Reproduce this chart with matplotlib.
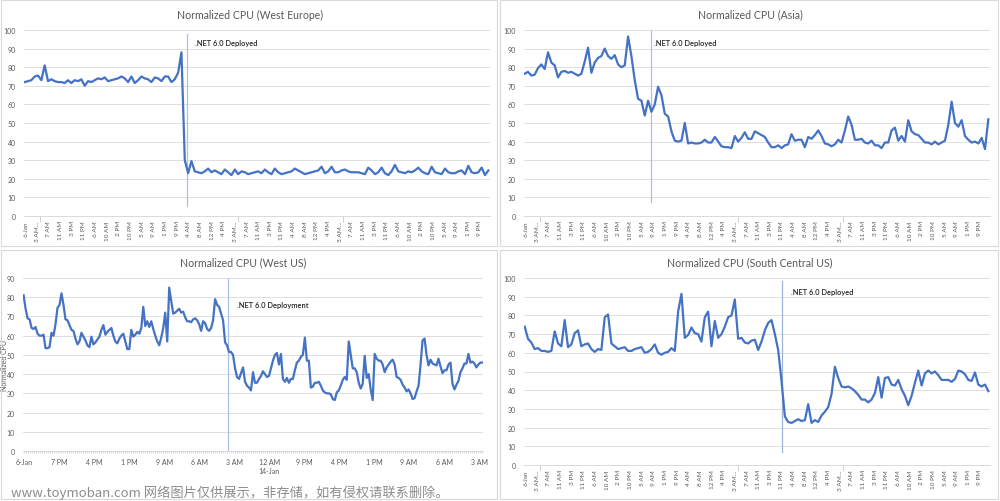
import matplotlib
matplotlib.use("Agg")
import matplotlib.pyplot as plt
import numpy as np
from matplotlib.patches import Rectangle

# ---------------- data ----------------
we_cpu = [72,72.5,73,75,75.5,73,81,72.5,73.5,72.5, 72,72,71.5,73,71.5,73,72.5,73.5,70,72.5,
          72,73,74,73.5,74.5,72.5,73,73.5,74,75, 74,72,75,71.5,73,75,74,73.5,72,74.5,
          74,72.5,75,75,72,73.5,77,88,30,23, 29.5,24,23.5,23,24,25.5,23.5,24.5,23.5,22.5,
          25,23.5,22,25,22.5,24,23.5,22.5,23,23.5, 24,23,25,23.5,22.5,25.5,23.5,22.5,23,23.5,
          24,25.5,24.5,23.5,22.5,23,23.5,24,24.5,26.5, 23,24,26.5,23.5,23.5,24.5,25,24,23.5,23.5,
          23.5,23,22.5,26,24.5,22.5,23.5,26,23,22, 24,27.5,24,23.5,23,24,23.5,24.5,26,24,
          23,22.5,26.5,23.5,23,22.5,25.5,23.5,23,23, 24,24.5,22.5,27,23.5,23,23.5,26,22,24.5]

asia_cpu = [76.5,77.5,75.5,76,79.5,81.5,79,88,82.5,81, 74.5,77.5,78,77,77.5,76.5,75.5,76.5,83,90.5,
            77,82.5,85,86,90,86,84.5,86.5,81.5,80, 81,96.5,86,73,63,62,54,62,56,60,
            69.5,65,55,53.5,45.5,40.5,40,40.5,50,39, 39.5,39,39,39.5,41,39.5,39.5,42.5,40,37.5,
            37,37,36.5,43,40,42,45,41.5,41.5,45.5, 44.5,43.5,42.5,39.5,37,37,38,36.5,38,38.5,
            44,40.5,41,41,37,42.5,41.5,43.5,46,43, 39,38.5,37.5,38.5,41,39.5,46,53.5,49,41,
            41,41.5,39.5,39,40.5,38,38,36.5,39.5,39.5, 46,47.5,40.5,43,40,51.5,45.5,44,43.5,41.5,
            39.5,39.5,38.5,40,38.5,39.5,40.5,49,61.5,50, 48,51.5,43,41,39.5,40,39,42,36,52]

wus_cpu = [81,74,69,68.5,64,63.5,64.5,61,60,60, 60.5,53.5,53.5,54,61.5,60,66,74.5,76,82,
           76,68.5,68,65.5,63,62.5,58.5,55.5,57,61.5, 59.5,57.5,55,54,59.5,55.5,56.5,58,59.5,63,
           65.5,60.5,62,63,64,60,57,56,58.5,60, 61,57,53,53,63,59.5,60.5,62,61,64,
           75,65,67.5,64.5,67.5,63.5,60,57,55,59, 64,72,57,85,78,71.5,72,73,74,72,
           72.5,69.5,67.5,67.5,67,68.5,69,68,66,62.5, 67.5,66.5,63.5,62.5,64,68,79,76,75,71.5,
           68,56.5,55,51.5,51.5,50,43,38.5,37.5,40.5, 43.5,36,34,33,31.5,41,35.5,35.5,37.5,39,
           41.5,40,38.5,39,43,47,50,51,45,50.5, 37.5,36,38,35.5,37.5,37.5,42,46,47,49,
           50,59,47,47,33,33.5,35.5,35.5,36,34, 31.5,30.5,30,30,29.5,27,26.5,30.5,31.5,34,
           37,38.5,37,57,50,43,43,41,35.5,32.5, 35,49.5,38,40,32,26.5,50.5,48,47,47,
           45,41,43.5,45,46.5,47.5,45,38.5,38,37, 34.5,33,31,32,30,27,27.5,31,34,45,
           57.5,58.5,50,44.5,47.5,45.5,45,44.5,48,44, 40.5,42,42,45,46,35,32,34.5,36.5,41,
           43,45.5,45.5,50.5,46,46.5,45.5,43.5,45,46, 46]

scus_cpu = [74,67.5,65.5,62,62.5,61,61,60.5,61,71.5, 65,63.5,77.5,63,64.5,70.5,72,63.5,64.5,65,
            62,60.5,62,61.5,79,80.5,65,63.5,62,62.5, 63,61,61,62,62.5,63,60,60.5,62,64.5,
            60,59,60,60.5,62.5,61,82,91.5,68,69.5, 73.5,70.5,70,66,79,82,63.5,77,68,70,
            74,79,80,88.5,67.5,68,65.5,65,66.5,67, 61.5,66,72,76,77.5,70,61.5,45,26,23,
            22.5,23.5,24.5,23.5,24,32.5,22.5,24,23,26.5, 28.5,31,38,52.5,46.5,42,41.5,42,41,39.5,
            37.5,35,35,33.5,35,38.5,47,36,46.5,47, 43,42.5,45.5,40.5,37,32,37,44,50.5,42.5,
            49,50.5,49,50,48,45.5,45.5,45.5,44.5,46, 50.5,50,48.5,45.5,45,49.5,43,42,43,39.5]

top_labels = ['6-Jan','3 AM…','7 AM','11 AM','3 PM','11 PM','6 AM','10 AM','2 PM','10 PM',
              '5 AM','9 AM','1 PM','9 PM','4 AM','8 AM','12 PM','4 PM','3 AM…','7 AM',
              '11 AM','3 PM','11 PM','4 AM','8 AM','12 PM','4 PM','3 AM…','7 AM','11 AM',
              '3 PM','11 PM','6 AM','10 AM','2 PM','10 PM','5 AM','9 AM','1 PM','9 PM']
wus_labels = ['6-Jan','7 PM','4 PM','1 PM','9 AM','6 AM','3 AM','12 AM','9 PM','4 PM',
              '1 PM','9 AM','6 AM','3 AM']

titles = ['Normalized CPU (West Europe)', 'Normalized CPU (Asia)',
          'Normalized CPU (West US)', 'Normalized CPU (South Central US)']
notes = ['.NET 6.0 Deployed', '.NET 6.0 Deployed', '.NET 6.0 Deployment', '.NET 6.0 Deployed']
deploy_idx = [48.8, 38.0, 102.7, 77.0]

# ---------------- style ----------------
plt.rcParams['font.family'] = ['Lato', 'DejaVu Sans']
BLUE = '#4472C4'
GRID = '#D9D9D9'
TXT = '#595959'
W, H = 1000, 502

fig = plt.figure(figsize=(W / 100, H / 100), dpi=100)
fig.patch.set_facecolor('white')

def px_rect(x0, y0, x1, y1):
    return [x0 / W, 1 - y1 / H, (x1 - x0) / W, (y1 - y0) / H]

# panel frames
for (x0, y0, x1, y1) in [(1, 1, 497, 247), (500, 1, 998, 247), (1, 251, 497, 500), (500, 251, 998, 500)]:
    fig.patches.append(Rectangle((x0 / W, 1 - y1 / H), (x1 - x0) / W, (y1 - y0) / H,
                                 transform=fig.transFigure, fill=False, edgecolor=GRID, lw=0.8))

axes_px = [(24, 31, 490, 217), (524, 31, 990, 217), (23, 279, 483, 452), (524, 279, 990, 466)]
series = [we_cpu, asia_cpu, wus_cpu, scus_cpu]
ymax = [100, 100, 90, 100]
vline_span = [(5.5, 98), (7.5, 99.5), (0.5, 90.5), (7, 98.5)]
note_pos = [(51, 93.5), (38.7, 93.5), (107, 76), (79.8, 93)]
title_xy = [(250, 15), (750, 15), (243, 263), (750, 263)]

for i in range(4):
    ax = fig.add_axes(px_rect(*axes_px[i]))
    y = np.array(series[i], dtype=float)
    x = np.arange(len(y))
    ax.plot(x, y, color=BLUE, lw=1.6, solid_joinstyle='round')
    n = len(y)
    if i == 2:
        ax.set_xlim(-0.3, n - 1 + 0.3)
    else:
        ax.set_xlim(-0.2, n - 1 + 0.5)
    ax.set_ylim(0, ymax[i])
    ax.set_yticks(np.arange(0, ymax[i] + 1, 10))
    ax.grid(axis='y', color=GRID, lw=0.6)
    ax.set_axisbelow(True)
    for s in ['top', 'right', 'left']:
        ax.spines[s].set_visible(False)
    ax.spines['bottom'].set_color(GRID)
    ax.spines['bottom'].set_linewidth(0.7)
    ax.tick_params(axis='y', length=0, labelsize=5, labelcolor=TXT, pad=6)
    if i == 2:
        pos = np.linspace(0.33, 228.3, len(wus_labels))
        ax.set_xticks(pos)
        ax.set_xticklabels(wus_labels, fontsize=5, color=TXT)
        ax.tick_params(axis='x', length=0, pad=5)
        ax.set_xticks(x, minor=True)
        ax.tick_params(axis='x', which='minor', length=1.5, width=0.4, color='#BFBFBF')
        ax.text(pos[7], -0.095, '14-Jan', transform=ax.get_xaxis_transform(),
                ha='center', va='top', fontsize=5, color=TXT)
        ax.set_ylabel('Normalized CPU', fontsize=5, color=TXT)
        ax.yaxis.set_label_coords(-0.032, 0.5)
    else:
        pos = np.linspace(0.3, 136.5, len(top_labels))
        ax.set_xticks(pos)
        ax.set_xticklabels(top_labels, fontsize=4.6, color=TXT, rotation=90)
        ax.tick_params(axis='x', length=0, pad=3)
        ax.set_xticks([pos[1] + 0.9, pos[18] + 0.9, pos[27] + 0.9], minor=True)
        ax.tick_params(axis='x', which='minor', length=4, width=0.5, color='#BFBFBF')
    vc = '#A9C1E8' if i != 3 else '#9FB3D6'
    ax.plot([deploy_idx[i], deploy_idx[i]], list(vline_span[i]), color=vc, lw=0.9, zorder=1)
    ax.text(note_pos[i][0], note_pos[i][1], notes[i], fontsize=5.4, color='#262626',
            ha='left', va='center', fontweight='semibold')
    fig.text(title_xy[i][0] / W, 1 - title_xy[i][1] / H, titles[i], fontsize=7.6,
             color=TXT, ha='center', va='center')

fig.text(11 / W, 1 - 493 / H, 'www.toymoban.com 网络图片仅供展示，非存储，如有侵权请联系删除。',
         fontsize=9.5, color='#8C8C8C', ha='left', va='center',
         family=['Noto Sans CJK SC', 'DejaVu Sans'])

fig.savefig('out.png', dpi=100, facecolor='white')
